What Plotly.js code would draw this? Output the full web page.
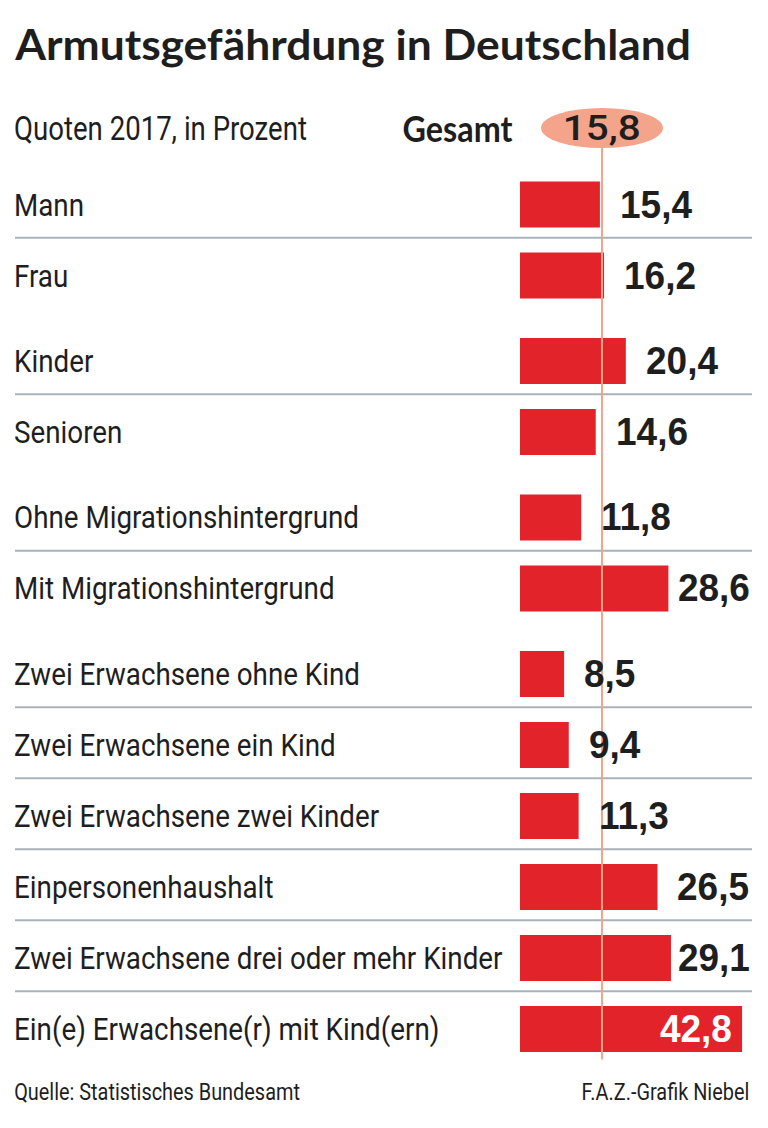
<!DOCTYPE html>
<html><head><meta charset="utf-8">
<script src="https://cdn.plot.ly/plotly-3.0.1.min.js"></script>
<style>html,body{margin:0;padding:0;background:#fff}#chart{width:768px;height:1128px}</style>
</head><body><div id="chart"></div>
<script>
// ---- data ----
const categories = ["Mann","Frau","Kinder","Senioren","Ohne Migrationshintergrund","Mit Migrationshintergrund","Zwei Erwachsene ohne Kind","Zwei Erwachsene ein Kind","Zwei Erwachsene zwei Kinder","Einpersonenhaushalt","Zwei Erwachsene drei oder mehr Kinder","Ein(e) Erwachsene(r) mit Kind(ern)"];
const groups = ["Geschlecht","Geschlecht","Alter","Alter","Migration","Migration","Haushalt","Haushalt","Haushalt","Haushalt","Haushalt","Haushalt"];
const values = [15.4,16.2,20.4,14.6,11.8,28.6,8.5,9.4,11.3,26.5,29.1,42.8];
const valueLabels = ["15,4","16,2","20,4","14,6","11,8","28,6","8,5","9,4","11,3","26,5","29,1","42,8"];
const gesamt = 15.8;
const gesamtLabel = "15,8";
const titleText = "Armutsgefährdung in Deutschland";
const subtitleText = "Quoten 2017, in Prozent";
const gesamtText = "Gesamt";
const sourceText = "Quelle: Statistisches Bundesamt";
const creditText = "F.A.Z.-Grafik Niebel";

// ---- layout helpers ----
const W = 768, H = 1128;
const ROW = 71, FIRST = 204.5, GAP = 0.204;
const X0 = 520, XMAX = 47.8;
const pxPerUnit = (W - X0) / XMAX;
const RED = '#e3232a', SALMON = '#f3a48a', TXT = '#1e1e1e', DIV = '#a8b2ba';

// font roles: family, size, weight, horizontal calibration (target px width of a sample string)
const canvas = document.createElement('canvas').getContext('2d');
function measure(str, f) { canvas.font = f.weight + ' ' + f.size + 'px ' + f.family; return canvas.measureText(str).width; }
function role(family, size, weight, sample, target) {
  const f = {family, size, weight};
  f.k = target / measure(sample, f);
  return f;
}
const F = {
  title:   role('Lato, Roboto, sans-serif', 42, '700', titleText, 676),
  header:  role('Lato, Roboto, sans-serif', 36, '700', gesamtText, 110),
  total:   role('Roboto, sans-serif', 35, '500', gesamtLabel, 78),
  sub:     role('Roboto, sans-serif', 34, '400', subtitleText, 293),
  label:   role('Roboto, sans-serif', 32, '400', categories[4], 345),
  value:   role('"Liberation Sans", Arial, sans-serif', 38, '700', valueLabels[0], 72),
  foot:    role('Roboto, sans-serif', 24, '400', sourceText, 286)
};
function font(f, color) { return {family: f.family, size: f.size, weight: +f.weight, color: color || TXT}; }

let pos = [], changes = 0;
for (let i = 0; i < categories.length; i++) {
  if (i > 0 && groups[i] !== groups[i-1]) changes++;
  pos.push(i + GAP * changes);
}
const headerPos = (128 - FIRST) / ROW;
const maxVal = Math.max(...values);

const annotations = [], squeeze = [];
function add(a, f, origin) { annotations.push(a); squeeze.push({k: f.k, origin}); }

add({xref:'paper', yref:'paper', x:12/W, y:1-44/H, xanchor:'left', yanchor:'middle', showarrow:false,
  text:titleText, font:font(F.title)}, F.title, 'left');
add({xref:'paper', yref:'y', x:12/W, y:headerPos, xanchor:'left', yanchor:'middle', showarrow:false,
  text:subtitleText, font:font(F.sub)}, F.sub, 'left');
add({xref:'x', yref:'y', x:gesamt, xshift:-87, y:headerPos, xanchor:'right', yanchor:'middle', showarrow:false,
  text:gesamtText, font:font(F.header)}, F.header, 'right');
add({xref:'x', yref:'y', x:gesamt, y:headerPos, xanchor:'center', yanchor:'middle', showarrow:false,
  text:gesamtLabel, font:font(F.total)}, F.total, 'center');
categories.forEach((c, i) => {
  add({xref:'paper', yref:'y', x:12/W, y:pos[i], xanchor:'left', yanchor:'middle', showarrow:false,
    text:c, font:font(F.label)}, F.label, 'left');
  const inside = values[i] === maxVal;
  const barEnd = X0 + values[i] * pxPerUnit;
  const tw = measure(valueLabels[i], F.value) * F.value.k;
  if (inside) {
    add({xref:'x', yref:'y', x:values[i], xshift:-8, y:pos[i], xanchor:'right', yanchor:'middle', showarrow:false,
      text:valueLabels[i], font:font(F.value, '#ffffff')}, F.value, 'right');
  } else if (barEnd + 20 + tw > 750) {
    add({xref:'paper', yref:'y', x:752/W, y:pos[i], xanchor:'right', yanchor:'middle', showarrow:false,
      text:valueLabels[i], font:font(F.value)}, F.value, 'right');
  } else {
    add({xref:'x', yref:'y', x:values[i], xshift:18, y:pos[i], xanchor:'left', yanchor:'middle', showarrow:false,
      text:valueLabels[i], font:font(F.value)}, F.value, 'left');
  }
});
add({xref:'paper', yref:'paper', x:12/W, y:1-1092/H, xanchor:'left', yanchor:'middle', showarrow:false,
  text:sourceText, font:font(F.foot)}, F.foot, 'left');
add({xref:'paper', yref:'paper', x:751/W, y:1-1092/H, xanchor:'right', yanchor:'middle', showarrow:false,
  text:creditText, font:font(F.foot)}, F.foot, 'right');

const shapes = [];
for (let i = 0; i < categories.length - 1; i++) {
  if (groups[i] === groups[i+1]) {
    const ym = (pos[i] + pos[i+1]) / 2 - 0.03;
    shapes.push({type:'line', xref:'paper', yref:'y', x0:15/W, x1:752/W, y0:ym, y1:ym, line:{color:DIV, width:2}, layer:'below'});
  }
}
shapes.push({type:'line', xref:'x', yref:'y', x0:gesamt, x1:gesamt, y0:headerPos, y1:pos[pos.length-1] + 0.43,
  line:{color:SALMON, width:2}, layer:'above'});
shapes.push({type:'circle', xref:'x', yref:'y', xsizemode:'pixel', ysizemode:'pixel', xanchor:gesamt, yanchor:headerPos,
  x0:-61, x1:61, y0:-20, y1:20, fillcolor:SALMON, line:{width:0}, layer:'above'});

const trace = {type:'bar', orientation:'h', x:values, y:pos, width:0.65, marker:{color:RED, line:{width:0}},
  hoverinfo:'skip', cliponaxis:false};

const layout = {
  width:W, height:H, margin:{l:0, r:0, t:0, b:0}, paper_bgcolor:'#fff', plot_bgcolor:'rgba(0,0,0,0)',
  showlegend:false,
  xaxis:{domain:[X0/W, 1], range:[0, XMAX], visible:false, fixedrange:true},
  yaxis:{domain:[0,1], range:[(H-FIRST)/ROW, -FIRST/ROW], visible:false, fixedrange:true},
  annotations, shapes
};
Plotly.newPlot('chart', [trace], layout, {staticPlot:true, displayModeBar:false}).then(gd => {
  const texts = gd.querySelectorAll('.annotation .annotation-text');
  texts.forEach((t, i) => {
    const s = squeeze[i]; if (!s) return;
    t.style.transformBox = 'fill-box';
    t.style.transformOrigin = s.origin + ' center';
    t.style.transform = 'scaleX(' + s.k.toFixed(4) + ')';
  });
});
</script></body></html>
